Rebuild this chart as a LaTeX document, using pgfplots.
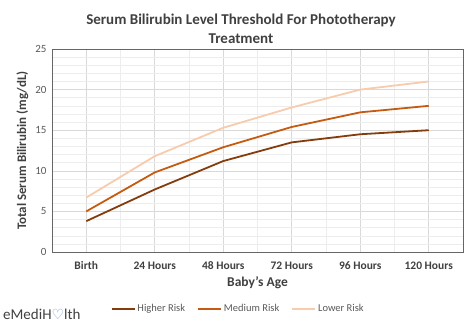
\documentclass[border=0pt]{standalone}
\usepackage{fontspec}
\setmainfont{Carlito}
\newfontfamily\symfont{DejaVu Sans}
\usepackage{pgfplots}
\pgfplotsset{compat=1.18}
\definecolor{hr}{HTML}{843C0C}
\definecolor{mr}{HTML}{C55A11}
\definecolor{lr}{HTML}{F8CBAD}
\definecolor{txt}{HTML}{404040}
\definecolor{tick}{HTML}{595959}
\begin{document}
\begin{tikzpicture}[x=1pt,y=1pt]
\path[use as bounding box] (0,0) rectangle (474,325);
\begin{axis}[
  at={(52pt,73pt)}, anchor=south west,
  scale only axis, width=411pt, height=203pt,
  xmin=-0.5, xmax=5.5, ymin=0, ymax=25,
  xtick={0,1,2,3,4,5},
  xticklabels={Birth,24 Hours,48 Hours,72 Hours,96 Hours,120 Hours},
  minor xtick={0.5,1.5,2.5,3.5,4.5},
  ytick={0,5,10,15,20,25},
  minor ytick={1,2,3,4,6,7,8,9,11,12,13,14,16,17,18,19,21,22,23,24},
  grid=both,
  major grid style={draw=black!15, line width=0.6pt},
  minor grid style={draw=black!7, line width=0.5pt},
  axis line style={draw=black!60, line width=0.8pt},
  major tick length=0pt, minor tick length=0pt,
  /pgf/number format/assume math mode=true,
  yticklabel style={font=\fontsize{11}{13}\selectfont, text=tick, xshift=-2pt},
  xticklabel style={font=\fontsize{11.5}{13}\selectfont\bfseries, text=txt, yshift=-6pt},
  xlabel={Baby's Age},
  ylabel={Total Serum Bilirubin (mg/dL)},
  xlabel style={font=\fontsize{13.5}{15}\selectfont\bfseries, text=txt, yshift=0pt},
  ylabel style={font=\fontsize{13}{15}\selectfont\bfseries, text=txt, yshift=0pt},
  legend columns=3,
  legend style={draw=none, fill=none, at={(rel axis cs:0.453,-0.281)}, anchor=center,
    font=\fontsize{10.5}{12}\selectfont, text=tick,
    /tikz/every even column/.append style={column sep=10pt}},
  legend image code/.code={\draw[#1, line width=1.8pt] (0pt,0pt) -- (23pt,0pt);},
]
\addplot[hr, line width=1.8pt] coordinates {(0,3.8) (1,7.7) (2,11.2) (3,13.5) (4,14.5) (5,15.0)};
\addlegendentry{Higher Risk}
\addplot[mr, line width=1.8pt] coordinates {(0,5.0) (1,9.8) (2,12.9) (3,15.4) (4,17.2) (5,18.0)};
\addlegendentry{Medium Risk}
\addplot[lr, line width=1.8pt] coordinates {(0,6.7) (1,11.8) (2,15.3) (3,17.8) (4,20.0) (5,21.0)};
\addlegendentry{Lower Risk}
\end{axis}
\node[font=\fontsize{15}{19}\selectfont\bfseries, text=txt, align=center] at (241,296)
  {Serum Bilirubin Level Threshold For Phototherapy\\Treatment};
\node[anchor=base west, font=\fontsize{15}{17}\selectfont, text=txt, inner sep=0pt] at (3,6)
  {eMediH{\symfont\color{cyan!50!blue!60}\fontsize{14}{16}\selectfont ♡}lth};
\end{tikzpicture}
\end{document}
